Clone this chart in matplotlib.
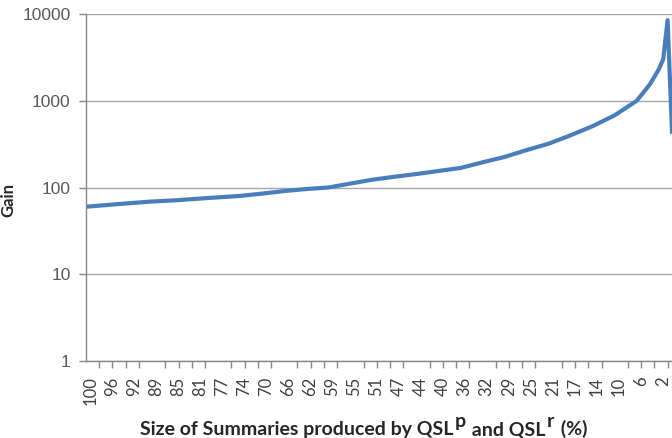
import matplotlib
matplotlib.use('Agg')
import matplotlib.pyplot as plt
import matplotlib.transforms as mtransforms

# x axis: categories, one label every 5 categories, one tick mark every 3
size_labels = [100, 96, 92, 89, 85, 81, 77, 74, 70, 66, 62, 59, 55, 51,
               47, 44, 40, 36, 32, 29, 25, 21, 17, 14, 10, 6, 2]
label_step = 5
tick_step = 3
last_category = 133

# gain at category positions
gain_idx = [0, 5, 10, 15, 20, 25, 30, 35, 40, 45, 50, 55, 60, 65, 70, 75,
            80, 85, 90, 95, 100, 105, 110, 115, 120, 125, 128, 130, 131, 132, 133]
gain_vals = [60, 63, 66, 69, 71, 74, 77, 80, 85, 91, 96, 100, 111, 123, 133, 143,
             155, 168, 195, 225, 270, 320, 400, 510, 680, 1000, 1550, 2300, 3000, 8500, 440]

y_ticks = [1, 10, 100, 1000, 10000]

# axis title pieces: (text, superscript?)
xlabel_parts = [('Size of Summaries produced by QSL', False), ('p', True),
                (' and QSL', False), ('r', True), (' (%)', False)]

W, H = 672, 438
fig = plt.figure(figsize=(W / 100, H / 100), dpi=100)
ax = fig.add_axes([86 / W, 77 / H, (W - 86) / W, (361 - 14) / H])

ax.plot(gain_idx, gain_vals, color='#4a7ebb', lw=3, solid_joinstyle='round')

ax.set_yscale('log')
ax.set_ylim(1, 10000)
ax.set_xlim(0, last_category)

ax.set_yticks(y_ticks)
ax.set_yticklabels([str(v) for v in y_ticks])
ax.yaxis.set_minor_locator(matplotlib.ticker.NullLocator())
ax.yaxis.grid(True, which='major', color='#a6a6a6', lw=1)
ax.set_axisbelow(True)

label_pos = [i * label_step for i in range(len(size_labels))]
ax.set_xticks(label_pos)
ax.set_xticklabels([str(v) for v in size_labels], rotation=90, fontsize=12,
                   family='Lato', color='#404040')
ax.set_xticks(list(range(0, last_category + 1, tick_step)), minor=True)
ax.tick_params(axis='x', which='major', length=0, pad=11)
ax.tick_params(axis='x', which='minor', length=5, width=1, color='#868686', direction='out')
ax.tick_params(axis='y', which='major', length=5, width=1, color='#868686', direction='out',
               labelsize=12.5, labelcolor='#595959', pad=6)
for lab in ax.get_yticklabels():
    lab.set_family('Liberation Sans')

offset = mtransforms.ScaledTranslation(3 / 72, 0, fig.dpi_scale_trans)
for lab in ax.get_xticklabels():
    lab.set_transform(lab.get_transform() + offset)

for side in ['top', 'right']:
    ax.spines[side].set_visible(False)
for side in ['left', 'bottom']:
    ax.spines[side].set_color('#868686')
    ax.spines[side].set_linewidth(1)

# x axis title, chained piece by piece so the superscripts stay large
style = dict(fontsize=14, fontweight='bold', family='Lato', color='#262626')
prev = fig.text(140 / W, 1 - 435 / H, xlabel_parts[0][0], ha='left', va='baseline', **style)
for txt, sup in xlabel_parts[1:]:
    prev = ax.annotate(txt, xy=(1, 0), xycoords=prev, xytext=(1, 6 if sup else -6),
                       textcoords='offset points', ha='left', va='bottom',
                       annotation_clip=False, **style)

fig.text(8 / W, 1 - 200 / H, 'Gain', rotation=90, ha='center', va='center',
         fontsize=12, fontweight='bold', family='Lato', color='#262626')

fig.savefig('out.png', dpi=100)
